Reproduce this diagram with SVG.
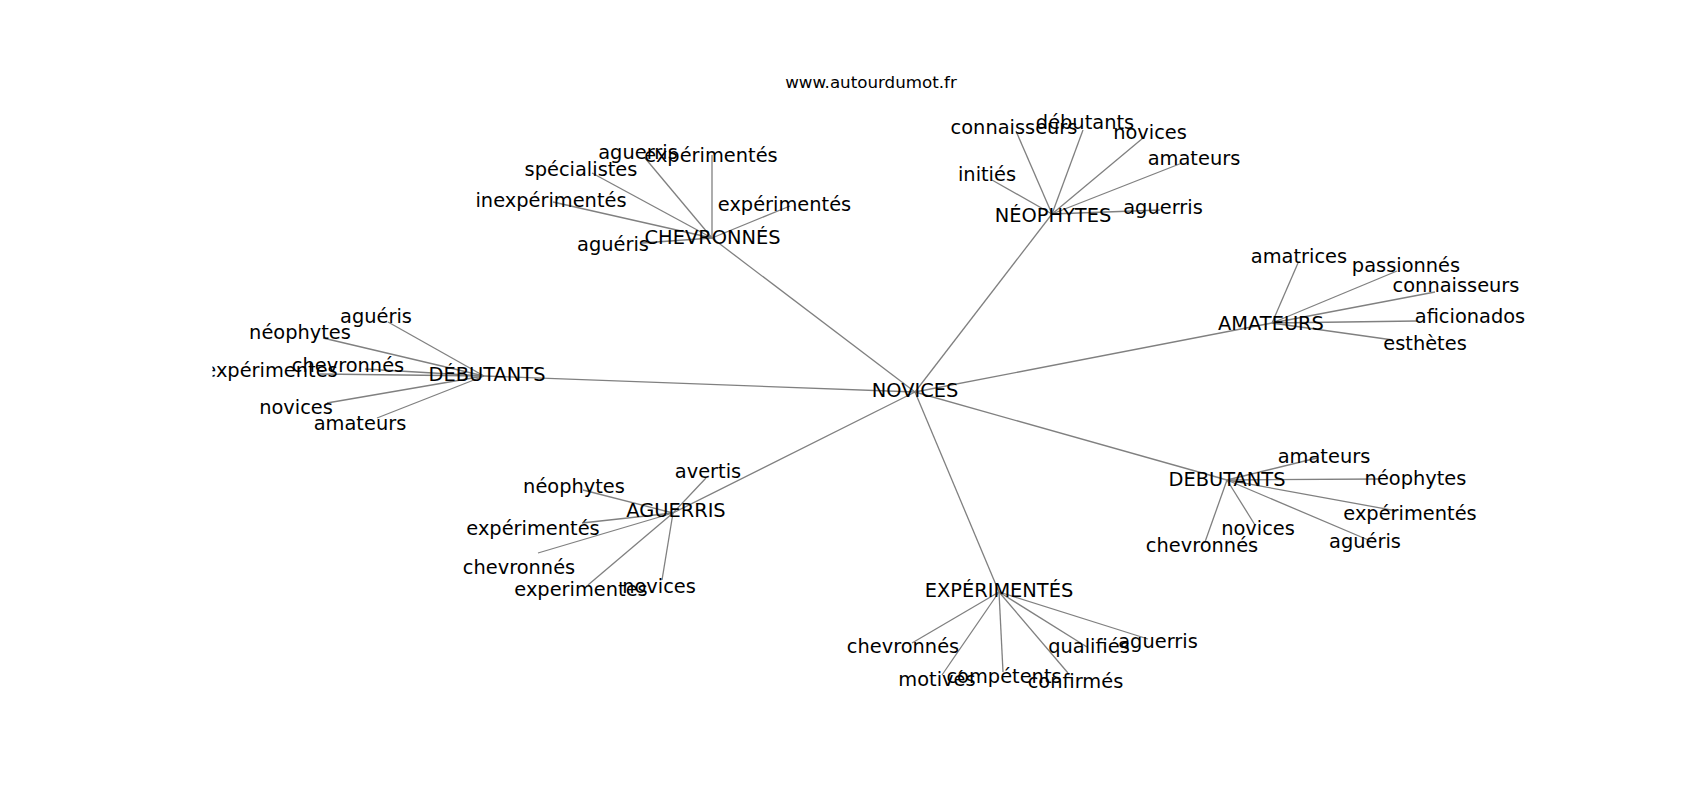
<svg xmlns="http://www.w3.org/2000/svg" width="1700" height="800" viewBox="0 0 1700 800">
<style>
text{font-family:"DejaVu Sans","Liberation Sans",sans-serif;font-size:19.4px;fill:#000;text-anchor:middle}
.title{font-size:16.7px}
.e line{stroke:#808080;stroke-width:1.3}
</style>
<defs>
<clipPath id="ax"><rect x="212.5" y="96" width="1317.5" height="616"/></clipPath>
</defs>
<rect width="1700" height="800" fill="#fff"/>
<text class="title" x="871" y="88">www.autourdumot.fr</text>
<g id="edges" class="e">
<line x1="915" y1="392" x2="712" y2="238"/>
<line x1="915" y1="392" x2="1052" y2="214"/>
<line x1="915" y1="392" x2="484" y2="376"/>
<line x1="915" y1="392" x2="1272" y2="323"/>
<line x1="915" y1="392" x2="1227" y2="480"/>
<line x1="915" y1="392" x2="673" y2="513"/>
<line x1="915" y1="392" x2="999" y2="592"/>
<line x1="712" y1="238" x2="645" y2="158"/>
<line x1="712" y1="238" x2="712" y2="155"/>
<line x1="712" y1="238" x2="592" y2="173"/>
<line x1="712" y1="238" x2="553" y2="202"/>
<line x1="712" y1="238" x2="790" y2="206"/>
<line x1="712" y1="238" x2="642" y2="243"/>
<line x1="1052" y1="214" x2="1016" y2="131"/>
<line x1="1052" y1="214" x2="1083" y2="130"/>
<line x1="1052" y1="214" x2="1143" y2="138"/>
<line x1="1052" y1="214" x2="1182" y2="163"/>
<line x1="1052" y1="214" x2="992" y2="180"/>
<line x1="1052" y1="214" x2="1160" y2="210"/>
<line x1="484" y1="376" x2="388" y2="322"/>
<line x1="484" y1="376" x2="323" y2="338"/>
<line x1="484" y1="376" x2="365" y2="369"/>
<line x1="484" y1="376" x2="320" y2="374"/>
<line x1="484" y1="376" x2="327" y2="403"/>
<line x1="484" y1="376" x2="377" y2="418"/>
<line x1="1272" y1="323" x2="1298" y2="263"/>
<line x1="1272" y1="323" x2="1397" y2="271"/>
<line x1="1272" y1="323" x2="1435" y2="292"/>
<line x1="1272" y1="323" x2="1417" y2="321"/>
<line x1="1272" y1="323" x2="1393" y2="340"/>
<line x1="1227" y1="480" x2="1317" y2="458"/>
<line x1="1227" y1="480" x2="1380" y2="479"/>
<line x1="1227" y1="480" x2="1397" y2="511"/>
<line x1="1227" y1="480" x2="1373" y2="542"/>
<line x1="1227" y1="480" x2="1255" y2="525"/>
<line x1="1227" y1="480" x2="1205" y2="542"/>
<line x1="673" y1="513" x2="706" y2="478"/>
<line x1="673" y1="513" x2="583" y2="490"/>
<line x1="673" y1="513" x2="582" y2="523"/>
<line x1="673" y1="513" x2="538" y2="553"/>
<line x1="673" y1="513" x2="588" y2="585"/>
<line x1="673" y1="513" x2="662" y2="580"/>
<line x1="999" y1="592" x2="912" y2="643"/>
<line x1="999" y1="592" x2="942" y2="675"/>
<line x1="999" y1="592" x2="1003" y2="672"/>
<line x1="999" y1="592" x2="1068" y2="673"/>
<line x1="999" y1="592" x2="1087" y2="647"/>
<line x1="999" y1="592" x2="1148" y2="639"/>
</g>
<g id="n-novices"><text x="915" y="397">NOVICES</text></g>
<g id="n-chevronnes"><text x="712.5" y="244">CHEVRONNÉS</text></g>
<g id="n-neophytes"><text x="1053" y="222">NÉOPHYTES</text></g>
<g id="n-debutants-l"><text x="487" y="381">DÉBUTANTS</text></g>
<g id="n-amateurs"><text x="1271" y="330">AMATEURS</text></g>
<g id="n-debutants-r"><text x="1227" y="486">DEBUTANTS</text></g>
<g id="n-aguerris"><text x="676" y="517">AGUERRIS</text></g>
<g id="n-experimentes"><text x="999" y="597">EXPÉRIMENTÉS</text></g>
<g id="c-aguerris"><text x="638" y="159">aguerris</text></g>
<g id="c-experimentes1"><text x="711" y="162">expérimentés</text></g>
<g id="c-specialistes"><text x="581" y="176">spécialistes</text></g>
<g id="c-inexperimentes"><text x="551" y="207">inexpérimentés</text></g>
<g id="c-experimentes2"><text x="784.5" y="211">expérimentés</text></g>
<g id="c-agueris"><text x="613" y="251">aguéris</text></g>
<g id="ne-connaisseurs"><text x="1014" y="134">connaisseurs</text></g>
<g id="ne-debutants"><text x="1085" y="129">débutants</text></g>
<g id="ne-novices"><text x="1150" y="139">novices</text></g>
<g id="ne-amateurs"><text x="1194" y="165">amateurs</text></g>
<g id="ne-inities"><text x="987" y="181">initiés</text></g>
<g id="ne-aguerris"><text x="1163" y="214">aguerris</text></g>
<g id="dl-agueris"><text x="376" y="323">aguéris</text></g>
<g id="dl-neophytes"><text x="300" y="339">néophytes</text></g>
<g id="dl-chevronnes"><text x="348" y="372">chevronnés</text></g>
<g id="dl-experimentes" clip-path="url(#ax)"><text x="271" y="377">expérimentes</text></g>
<g id="dl-novices"><text x="296" y="414">novices</text></g>
<g id="dl-amateurs"><text x="360" y="430">amateurs</text></g>
<g id="a-amatrices"><text x="1299" y="263">amatrices</text></g>
<g id="a-passionnes"><text x="1406" y="272">passionnés</text></g>
<g id="a-connaisseurs"><text x="1456" y="292">connaisseurs</text></g>
<g id="a-aficionados"><text x="1470" y="323">aficionados</text></g>
<g id="a-esthetes"><text x="1425" y="350">esthètes</text></g>
<g id="dr-amateurs"><text x="1324" y="463">amateurs</text></g>
<g id="dr-neophytes"><text x="1415.5" y="485">néophytes</text></g>
<g id="dr-experimentes"><text x="1410" y="520">expérimentés</text></g>
<g id="dr-agueris"><text x="1365" y="548">aguéris</text></g>
<g id="dr-novices"><text x="1258" y="535">novices</text></g>
<g id="dr-chevronnes"><text x="1202" y="552">chevronnés</text></g>
<g id="ag-avertis"><text x="708" y="478">avertis</text></g>
<g id="ag-neophytes"><text x="574" y="493">néophytes</text></g>
<g id="ag-experimentes"><text x="533" y="535">expérimentés</text></g>
<g id="ag-chevronnes"><text x="519" y="574">chevronnés</text></g>
<g id="ag-experimentes2"><text x="581" y="596">experimentes</text></g>
<g id="ag-novices"><text x="659" y="593">novices</text></g>
<g id="ex-chevronnes"><text x="903" y="653">chevronnés</text></g>
<g id="ex-motives"><text x="937" y="686">motivés</text></g>
<g id="ex-competents"><text x="1004" y="683">compétents</text></g>
<g id="ex-confirmes"><text x="1075.5" y="688">confirmés</text></g>
<g id="ex-qualifies"><text x="1089" y="653">qualifiés</text></g>
<g id="ex-aguerris"><text x="1158" y="648">aguerris</text></g>
</svg>
